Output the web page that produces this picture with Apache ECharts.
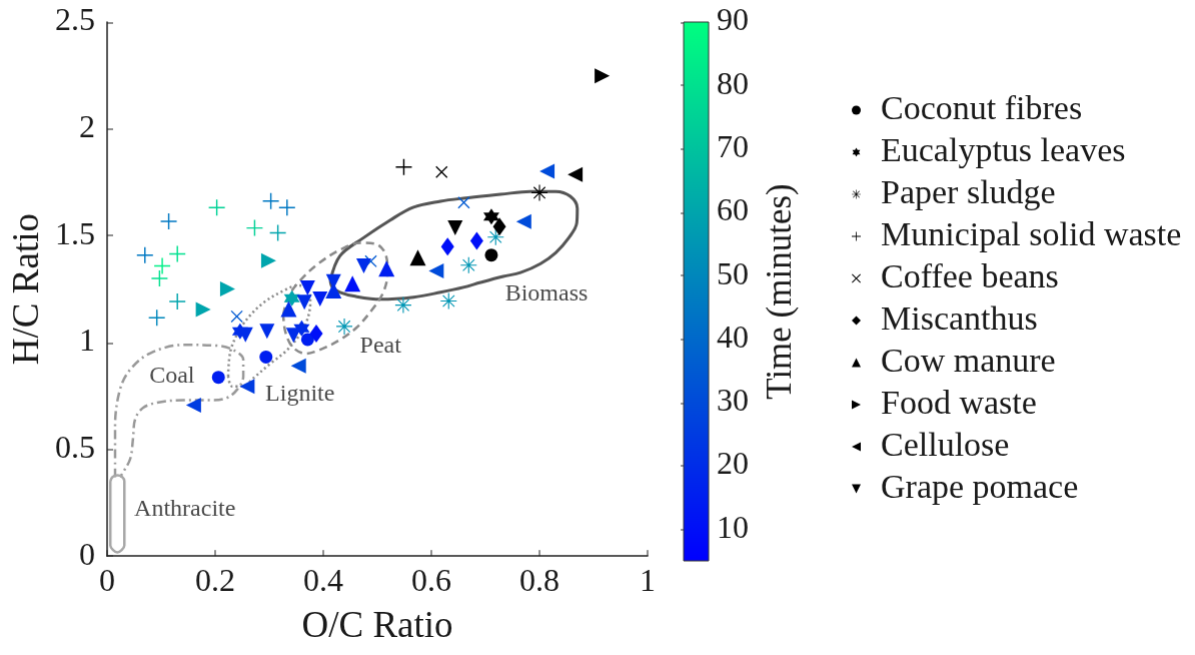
<!DOCTYPE html>
<html><head><meta charset="utf-8">
<script src="https://cdn.jsdelivr.net/npm/echarts@6/dist/echarts.min.js"></script>
<style>
html,body{margin:0;padding:0;background:#fff;overflow:hidden}
#wrap{width:1195px;height:655px;overflow:hidden;position:relative}
#c{width:597.5px;height:327.5px;transform:scale(2);transform-origin:0 0;position:absolute;left:0;top:0}
</style>
</head><body><div id="wrap"><div id="c"></div></div>
<script>
// ---- data: [O/C, H/C, time (min); time 0 = raw feedstock, drawn black] ----
const coconutFibres = [[0.711,1.409,0],[0.371,1.014,15],[0.294,0.932,15],[0.206,0.837,15]];
const eucalyptusLeaves = [[0.711,1.589,0],[0.342,1.207,60],[0.246,1.052,20],[0.360,1.066,20]];
const paperSludge = [[0.800,1.701,0],[0.719,1.493,55],[0.669,1.362,55],[0.632,1.194,55],[0.548,1.175,55],[0.439,1.075,55]];
const municipalSolidWaste = [[0.549,1.821,0],[0.203,1.631,75],[0.114,1.567,45],[0.070,1.409,45],[0.130,1.415,80],[0.102,1.358,85],[0.097,1.300,80],[0.130,1.192,60],[0.092,1.116,50],[0.303,1.662,45],[0.333,1.631,45],[0.273,1.536,75],[0.316,1.513,60]];
const coffeeBeans = [[0.619,1.798,0],[0.660,1.655,35],[0.488,1.380,35],[0.240,1.122,35]];
const miscanthus = [[0.726,1.542,0],[0.684,1.475,10],[0.630,1.449,10],[0.387,1.042,10]];
const cowManure = [[0.575,1.397,0],[0.517,1.345,15],[0.454,1.275,10],[0.419,1.244,20],[0.336,1.157,20]];
const foodWaste = [[0.916,2.248,0],[0.299,1.383,60],[0.223,1.250,60],[0.178,1.154,60]];
const cellulose = [[0.866,1.786,0],[0.814,1.801,30],[0.771,1.566,30],[0.609,1.335,30],[0.354,0.891,30],[0.259,0.795,25],[0.160,0.707,25]];
const grapePomace = [[0.644,1.536,0],[0.475,1.358,20],[0.419,1.284,20],[0.371,1.255,15],[0.394,1.204,15],[0.365,1.188,20],[0.256,1.036,20],[0.296,1.052,20],[0.345,1.034,20]];

const seriesNames = ['Coconut fibres','Eucalyptus leaves','Paper sludge','Municipal solid waste','Coffee beans','Miscanthus','Cow manure','Food waste','Cellulose','Grape pomace'];
const seriesData = [coconutFibres,eucalyptusLeaves,paperSludge,municipalSolidWaste,coffeeBeans,miscanthus,cowManure,foodWaste,cellulose,grapePomace];

const xTickLabels = ['0','0.2','0.4','0.6','0.8','1'];
const yTickLabels = ['0','0.5','1','1.5','2','2.5'];
const colorTicks = [10,20,30,40,50,60,70,80,90];
const colorRange = [5,90];

// region outlines (O/C, H/C)
const biomassOutline = [[0.413,1.290],[0.431,1.406],[0.474,1.489],[0.524,1.573],[0.567,1.633],[0.617,1.661],[0.659,1.675],[0.728,1.693],[0.783,1.707],[0.830,1.707],[0.857,1.684],[0.870,1.628],[0.869,1.559],[0.854,1.489],[0.830,1.420],[0.802,1.369],[0.765,1.327],[0.733,1.309],[0.691,1.281],[0.659,1.258],[0.617,1.235],[0.567,1.212],[0.506,1.202],[0.459,1.216],[0.431,1.235],[0.417,1.258],[0.413,1.290]];
const peatOutline = [[0.326,1.128],[0.335,1.212],[0.357,1.290],[0.391,1.369],[0.431,1.434],[0.469,1.466],[0.496,1.462],[0.515,1.415],[0.519,1.327],[0.511,1.235],[0.491,1.156],[0.463,1.073],[0.431,1.013],[0.394,0.966],[0.367,0.948],[0.343,0.980],[0.330,1.049],[0.326,1.128]];
const ligniteOutline = [[0.224,0.842],[0.228,0.957],[0.243,1.050],[0.265,1.128],[0.293,1.193],[0.324,1.239],[0.354,1.267],[0.372,1.249],[0.376,1.189],[0.369,1.096],[0.354,1.027],[0.330,0.957],[0.302,0.901],[0.274,0.841],[0.250,0.795],[0.231,0.795],[0.224,0.842]];
const coalOutline = [[0.0148,0.369],[0.0148,0.610],[0.024,0.781],[0.043,0.874],[0.080,0.950],[0.141,0.989],[0.204,0.985],[0.233,0.966],[0.252,0.920],[0.252,0.841],[0.241,0.781],[0.222,0.741],[0.196,0.730],[0.141,0.730],[0.098,0.721],[0.067,0.695],[0.052,0.642],[0.048,0.550],[0.043,0.457],[0.030,0.394],[0.024,0.370]];
const anthraciteOutline = [[0.006,0.35],[0.010,0.370],[0.019,0.378],[0.028,0.370],[0.032,0.35],[0.032,0.05],[0.027,0.028],[0.019,0.017],[0.011,0.028],[0.006,0.05],[0.006,0.35]];
const regionLabels = ['Biomass','Peat','Lignite','Coal','Anthracite'];
const regionLabelAt = [[0.813,1.225],[0.506,0.980],[0.357,0.758],[0.120,0.841],[0.144,0.216]];

// ---- styling (chart drawn at half size and scaled 2x by CSS, at devicePixelRatio 2) ----
const FONT = 'Liberation Serif';
const TXT = '#1a1a1a';
const SYM = {
  circle: 'circle',
  hex: 'path://M10,0L12.89,5L18.66,5L15.77,10L18.66,15L12.89,15L10,20L7.11,15L1.34,15L4.23,10L1.34,5L7.11,5Z',
  aster: 'path://M9.3,0H10.7V9.3H20V10.7H10.7V20H9.3V10.7H0V9.3H9.3Z M3.4,2.4L17.6,16.6L16.6,17.6L2.4,3.4Z M16.6,2.4L17.6,3.4L3.4,17.6L2.4,16.6Z',
  plus: 'path://M9.1,0H10.9V9.1H20V10.9H10.9V20H9.1V10.9H0V9.1H9.1Z',
  cross: 'path://M0.85,-0.85L20.85,19.15L19.15,20.85L-0.85,0.85Z M20.85,0.85L0.85,20.85L-0.85,19.15L19.15,-0.85Z',
  diamond: 'diamond',
  up: 'triangle',
  right: 'path://M0,0L20,10L0,20Z',
  left: 'path://M20,0L0,10L20,20Z',
  down: 'path://M0,0L20,0L10,20Z'
};
const seriesSym = ['circle','hex','aster','plus','cross','diamond','up','right','left','down'];
const seriesSize = [6.5,8,8,8,6,[6.5,9],8,7.5,7.5,7.5];

// MATLAB "winter" colormap over the colour-bar range; raw feedstock (time 0) in black
function timeColor(t){
  if (!(t >= colorRange[0])) return '#000000';
  const f = Math.min(1, (t - colorRange[0]) / (colorRange[1] - colorRange[0]));
  const g = Math.round(255 * f), b = Math.round(255 * (1 - f / 2));
  return 'rgb(0,' + g + ',' + b + ')';
}

const chart = echarts.init(document.getElementById('c'), null,
  {renderer:'canvas', devicePixelRatio:2, width:597.5, height:327.5});

const scatterSeries = seriesNames.map((n,i)=>({
  name:n, type:'scatter', xAxisIndex:0, yAxisIndex:0,
  symbol: SYM[seriesSym[i]], symbolSize: seriesSize[i],
  itemStyle:{color: p => timeColor(p.value[2]), opacity:1},
  data: seriesData[i], z:5
}));

function outline(data, lineStyle){
  return {type:'line', xAxisIndex:0, yAxisIndex:0, data:data, showSymbol:false, symbol:'none',
    smooth:0.35, silent:true, z:2, lineStyle:lineStyle};
}

const option = {
  animation:false,
  backgroundColor:'#fff',
  textStyle:{fontFamily:FONT},
  grid:[
    {left:53.5, top:11, width:270, height:270},
    {left:341.5, top:11, width:12.5, height:269}
  ],
  xAxis:[
    {type:'value', gridIndex:0, min:0, max:1, interval:0.2,
      name:'O/C Ratio', nameLocation:'middle', nameGap:24,
      nameTextStyle:{fontSize:18.5, color:TXT, fontFamily:FONT},
      axisLine:{onZero:false, lineStyle:{color:'#222', width:0.75}},
      axisTick:{inside:true, length:3, lineStyle:{color:'#222', width:0.5}},
      axisLabel:{fontSize:16, color:TXT, margin:5, fontFamily:FONT,
        formatter:v=>xTickLabels[Math.round(v/0.2)]},
      splitLine:{show:false}},
    {type:'value', gridIndex:1, min:0, max:1, show:false}
  ],
  yAxis:[
    {type:'value', gridIndex:0, min:0, max:2.5, interval:0.5,
      name:'H/C Ratio', nameLocation:'middle', nameGap:30,
      nameTextStyle:{fontSize:18.5, color:TXT, fontFamily:FONT},
      axisLine:{onZero:false, lineStyle:{color:'#222', width:0.75}},
      axisTick:{inside:true, length:3, lineStyle:{color:'#222', width:0.5}},
      axisLabel:{fontSize:16, color:TXT, margin:6, fontFamily:FONT,
        formatter:v=>yTickLabels[Math.round(v/0.5)]},
      splitLine:{show:false}},
    {type:'value', gridIndex:1, min:colorRange[0], max:colorRange[1], position:'right',
      name:'Time (minutes)', nameLocation:'middle', nameGap:27.5, nameRotate:90,
      nameTextStyle:{fontSize:17.5, color:TXT, fontFamily:FONT},
      axisLine:{show:false},
      axisTick:{show:true, inside:true, length:1.5, customValues:colorTicks, lineStyle:{color:'#333', width:0.5}},
      axisLabel:{fontSize:16, color:TXT, margin:4, fontFamily:FONT, customValues:colorTicks},
      splitLine:{show:false}}
  ],
  legend:{
    orient:'vertical', left:420.5, top:41, itemWidth:4.5, itemHeight:4.5, itemGap:3,
    textStyle:{fontSize:17, color:TXT, fontFamily:FONT, lineHeight:18, padding:[0,0,0,5]},
    data: seriesNames.map(n=>({name:n, itemStyle:{color:'#000'}})),
    selectedMode:false
  },
  series:[
    ...scatterSeries,
    outline(biomassOutline, {color:'#555', width:1.5, type:'solid'}),
    outline(peatOutline, {color:'#8a8a8a', width:1.25, type:[4,2.5]}),
    outline(ligniteOutline, {color:'#8a8a8a', width:1.25, type:[1,1.5]}),
    outline(coalOutline, {color:'#999', width:1.25, type:[4.5,2,1,2]}),
    outline(anthraciteOutline, {color:'#a8a8a8', width:1.25, type:'solid'}),
    {type:'scatter', xAxisIndex:0, yAxisIndex:0, symbolSize:0.5, itemStyle:{color:'rgba(0,0,0,0)'},
      silent:true, z:4,
      data: regionLabelAt.map((p,i)=>({value:p, name:regionLabels[i]})),
      label:{show:true, position:'inside', formatter:p=>p.name, fontSize:12, color:TXT, fontFamily:FONT}},
    {type:'custom', xAxisIndex:1, yAxisIndex:1, silent:true, z:1,
      data:[[0, colorRange[0]]],
      renderItem:(params, api)=>{
        const tl = api.coord([0, colorRange[1]]);
        const br = api.coord([1, colorRange[0]]);
        return {type:'rect', shape:{x:tl[0], y:tl[1], width:br[0]-tl[0], height:br[1]-tl[1]},
          style:{fill:new echarts.graphic.LinearGradient(0,0,0,1,[{offset:0,color:'#00ff80'},{offset:1,color:'#0000ff'}]),
          stroke:'#333', lineWidth:0.5}};
      }}
  ]
};
chart.setOption(option);
</script></body></html>
